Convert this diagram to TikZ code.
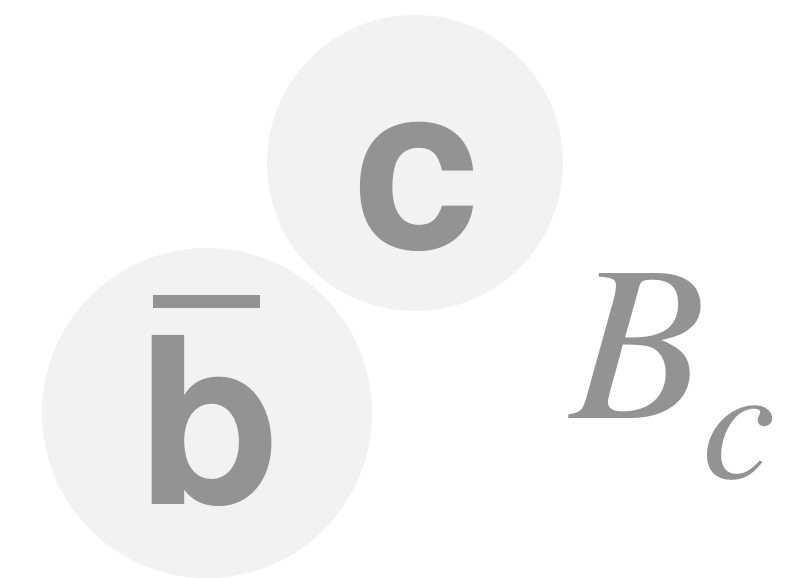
\documentclass[tikz,border=0pt]{standalone}
\usepackage{fontspec}
\newfontfamily\heros{TeX Gyre Heros}
\newfontfamily\serifit{texgyretermes-italic.otf}
\definecolor{ink}{HTML}{939393}
\definecolor{disc}{HTML}{F2F2F2}
\begin{document}
\begin{tikzpicture}[x=1pt,y=-1pt,
  ball/.style={circle,fill=disc,draw=none,inner sep=0pt},
  quark/.style={text=ink,inner sep=0pt,anchor=base,font=\heros\bfseries\fontsize{232}{232}\selectfont},
  meson/.style={text=ink,inner sep=0pt,anchor=base,font=\serifit\fontsize{222}{222}\selectfont},
  sub/.style={text=ink,inner sep=0pt,anchor=base,font=\serifit\fontsize{165}{165}\selectfont}]
\useasboundingbox (0,0) rectangle (806,578);
\node[ball,minimum size=296pt] (cball) at (415,163) {};
\node[ball,minimum size=330pt] (bball) at (207,413) {};
\node[quark] (c) at (416.5,249) {c};
\node[quark] (b) at (209,504) {b};
\fill[ink] (153,295) rectangle (260,308);
\node[meson] (B) at (638.5,418) {B};
\node[sub] (sc) at (739.5,478) {c};
\end{tikzpicture}
\end{document}
